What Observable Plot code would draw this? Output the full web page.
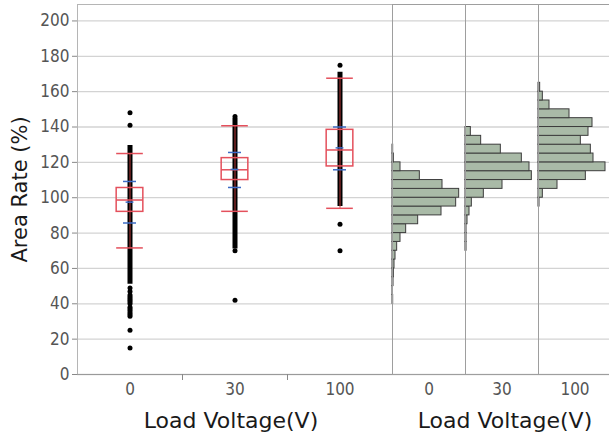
<!DOCTYPE html>
<html><head><meta charset="utf-8">
<script src="https://cdn.jsdelivr.net/npm/d3@7"></script>
<script src="https://cdn.jsdelivr.net/npm/@observablehq/plot@0.6"></script>
<style>
body{margin:0;background:#fff}
#chart{position:relative;width:609px;height:436px;overflow:hidden;background:#fff}
#chart svg{position:absolute;top:0}
</style></head><body><div id="chart"></div>
<script>
// ---- data ----
const groups = ["0", "30", "100"];
const q1 = [92, 110, 117.7];
const median = [98.7, 115.8, 127];
const q3 = [105.5, 122.4, 138.4];
const whiskerLo = [71.6, 92.3, 94];
const whiskerHi = [125, 140.7, 167.6];
const meanVal = [97.5, 116, 128.2];
const sdLo = [85.7, 105.8, 115.8];
const sdHi = [109.2, 125.6, 140];
const denseLo = [51, 71, 95];
const denseHi = [129.5, 145, 171];
const points0 = [148, 141, 49, 47, 45, 44, 43, 42, 41, 40, 38, 37, 36, 35, 34, 33, 25, 15];
const points30 = [146, 70, 42];
const points100 = [175, 85, 70];
const yTicks = [0, 20, 40, 60, 80, 100, 120, 140, 160, 180, 200];
const binWidth = 5;
const bins = [40,45,50,55,60,65,70,75,80,85,90,95,100,105,110,115,120,125,130,135,140,145,150,155,160];
const counts0   = [2,1,3,4,6,9,14,24,41,77,147,191,200,150,82,24,4,2,0,0,0,0,0,0,0];
const counts30  = [0,0,0,0,0,0,3,3,3,6,12,19,55,111,199,192,169,106,47,16,0,0,0,0,0];
const counts100 = [0,0,0,0,0,0,0,0,0,0,0,3,13,57,142,201,165,157,127,150,162,93,33,13,5];

// ---- tables ----
const boxData = groups.map((g, i) => ({i, g, q1: q1[i], median: median[i], q3: q3[i],
  wLo: whiskerLo[i], wHi: whiskerHi[i], mean: meanVal[i], sdLo: sdLo[i], sdHi: sdHi[i],
  dLo: denseLo[i], dHi: denseHi[i]}));
const ptsData = [points0, points30, points100].flatMap((arr, i) => arr.map(v => ({i, v})));
const allCounts = [counts0, counts30, counts100];
const histData = [];
groups.forEach((g, gi) => bins.forEach((b, j) => {
  const c = allCounts[gi][j];
  if (c > 0) histData.push({g, y1: b, y2: b + binWidth, c});
}));

const red = "#e4505c", blue = "#3d6cc6";
const axisFont = "'Liberation Sans Narrow','DejaVu Sans Condensed','Roboto Condensed',sans-serif";
const titleFont = "'DejaVu Sans',sans-serif";
const half = 0.127, blueHalf = 0.062;
const yDomain = [0, 209.3];

const box = Plot.plot({
  width: 392, height: 436, marginTop: 4, marginBottom: 62, marginLeft: 77, marginRight: 0,
  style: {fontFamily: axisFont, fontSize: "17px", color: "#555", background: "transparent", overflow: "visible"},
  x: {type: "linear", domain: [-0.5, 2.5]},
  y: {domain: yDomain},
  marks: [
    Plot.gridY(yTicks, {stroke: "#d3d3d3", strokeOpacity: 1, strokeWidth: 1.3}),
    Plot.frame({stroke: "#b5b5b5"}),
    Plot.ruleY([0], {stroke: "#9a9a9a"}),
    Plot.axisY(yTicks, {tickSize: 5, tickPadding: 3, stroke: "#888", label: null}),
    Plot.axisX([0, 1, 2], {tickSize: 0, tickPadding: 8, tickFormat: i => groups[i], label: null}),
    Plot.axisX([0.5, 1.5], {tickSize: 6, tickFormat: () => "", label: null, stroke: "#888"}),
    Plot.ruleX(boxData, {x: "i", y1: "dLo", y2: "dHi", stroke: "#000", strokeWidth: 5}),
    Plot.dot(ptsData, {x: "i", y: "v", r: 2.5, fill: "#000", stroke: "none"}),
    Plot.ruleX(boxData, {x: "i", y1: "wLo", y2: "wHi", stroke: "#b83838", strokeWidth: 1}),
    Plot.rect(boxData, {x1: d => d.i - half, x2: d => d.i + half, y1: "q1", y2: "q3", fill: "none", stroke: red, strokeWidth: 1.5}),
    Plot.ruleY(boxData, {x1: d => d.i - half, x2: d => d.i + half, y: "median", stroke: red, strokeWidth: 1.5}),
    Plot.ruleY(boxData, {x1: d => d.i - half, x2: d => d.i + half, y: "wLo", stroke: red, strokeWidth: 1.5}),
    Plot.ruleY(boxData, {x1: d => d.i - half, x2: d => d.i + half, y: "wHi", stroke: red, strokeWidth: 1.5}),
    Plot.ruleY(boxData, {x1: d => d.i - blueHalf, x2: d => d.i + blueHalf, y: "sdLo", stroke: blue, strokeWidth: 1.5}),
    Plot.ruleY(boxData, {x1: d => d.i - blueHalf, x2: d => d.i + blueHalf, y: "sdHi", stroke: blue, strokeWidth: 1.5}),
    Plot.ruleY(boxData, {x1: d => d.i - blueHalf * 0.6, x2: d => d.i + blueHalf * 0.6, y: "mean", stroke: blue, strokeWidth: 1.5}),
    Plot.text(["Load Voltage(V)"], {frameAnchor: "bottom", dx: -4, dy: 53, lineAnchor: "bottom", textAnchor: "middle", fontFamily: titleFont, fontSize: 22, fill: "#1a1a1a"}),
    Plot.text(["Area Rate (%)"], {frameAnchor: "left", dx: -57, rotate: -90, textAnchor: "middle", lineAnchor: "middle", fontFamily: titleFont, fontSize: 21, fill: "#1a1a1a"})
  ]
});
box.style.left = "0px";

const hist = Plot.plot({
  width: 219, height: 436, marginTop: 4, marginBottom: 62, marginLeft: 0, marginRight: 0,
  style: {fontFamily: axisFont, fontSize: "17px", color: "#555", background: "transparent", overflow: "visible"},
  fx: {domain: groups, padding: 0, axis: "bottom", tickSize: 0, tickPadding: 8, label: null},
  x: {domain: [0, 219], axis: null},
  y: {domain: yDomain, axis: null},
  marks: [
    Plot.gridY(yTicks, {stroke: "#d3d3d3", strokeOpacity: 1, strokeWidth: 1.3}),
    Plot.rect(histData, {fx: "g", x1: 0, x2: "c", y1: "y1", y2: "y2", fill: "#a9baa7", stroke: "#3d3d3d", strokeWidth: 1}),
    Plot.frame({stroke: "#9e9e9e"}),
    Plot.text(["Load Voltage(V)"], {fx: ["30"], frameAnchor: "bottom", dx: 3, dy: 53, lineAnchor: "bottom", textAnchor: "middle", fontFamily: titleFont, fontSize: 22, fill: "#1a1a1a"})
  ]
});
hist.style.left = "392px";

const root = document.getElementById("chart");
root.appendChild(box);
root.appendChild(hist);
</script>
</body></html>
